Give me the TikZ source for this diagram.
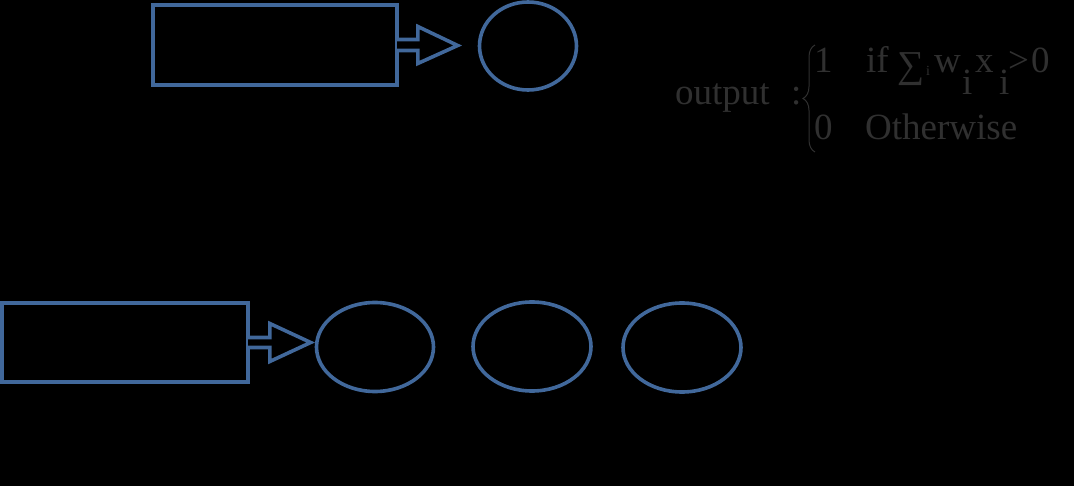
\documentclass[tikz,border=0pt]{standalone}
\usepackage{fontspec}
\setmainfont{Liberation Serif}
\usetikzlibrary{shapes.geometric,decorations.pathreplacing,calc}
\definecolor{edge}{RGB}{65,104,155}
\definecolor{txt}{RGB}{48,48,48}
\tikzset{
  box/.style={draw=edge,line width=3.6pt,rectangle,inner sep=0pt,fill=black},
  oval/.style={draw=edge,line width=3.6pt,ellipse,inner sep=0pt,fill=black},
  blockarrow/.style={draw=edge,line width=3.6pt,fill=black,line join=miter},
  lbl/.style={text=txt,font=\fontsize{37}{40}\selectfont,inner sep=0pt,anchor=base west}
}
\begin{document}
\begin{tikzpicture}[x=1pt,y=-1pt]
\fill[black] (0,0) rectangle (1074,486);
\useasboundingbox (0,0) rectangle (1074,486);
% top row
\node[box,minimum width=244pt,minimum height=80pt] (r1) at (275,45) {};
\node[oval,minimum width=97pt,minimum height=88pt] (c1) at (528,46) {};
\draw[blockarrow] ([shift={(-1.8,-5.5)}]r1.east) -- ++(20.8,0) -- ++(0,-13) -- ($(c1.west)+(-20,-0.5)$) -- ([shift={(19,18.5)}]r1.east) -- ++(0,-13) -- ++(-20.8,0);
% bottom row
\node[box,minimum width=246pt,minimum height=79pt] (r2) at (125,342.5) {};
\node[oval,minimum width=117pt,minimum height=89pt] (e1) at (375,347) {};
\node[oval,minimum width=118pt,minimum height=89pt] (e2) at (532,346.5) {};
\node[oval,minimum width=118pt,minimum height=89pt] (e3) at (682,347.5) {};
\draw[blockarrow] ([shift={(-1.8,-5)}]r2.east) -- ++(21.8,0) -- ++(0,-14) -- ($(e1.west)+(-4,-4.5)$) -- ([shift={(20,19)}]r2.east) -- ++(0,-14) -- ++(-21.8,0);
% formula
\node[lbl] (out) at (675,105) {output};
\node[lbl] (col) at (791,105) {:};
\draw[txt,line width=1pt,decorate,decoration={brace,amplitude=12pt}] (815,152) -- (815,45);
\node[lbl] (one) at (814,73) {1};
\node[lbl] (zero) at (814,140) {0};
\node[lbl] (if) at (866,73) {if};
\node[lbl,font=\fontsize{38}{40}\selectfont] (sum) at (897,78) {∑};
\node[lbl,font=\fontsize{14}{16}\selectfont] (si) at (926,76) {i};
\node[lbl] (w) at (934,73) {w};
\node[lbl] (wi) at (962,95) {i};
\node[lbl] (x) at (975,73) {x};
\node[lbl] (xi) at (999,95) {i};
\node[lbl] (gt) at (1008,73) {>};
\node[lbl] (z) at (1031,73) {0};
\node[lbl] (oth) at (865,140) {Otherwise};
\end{tikzpicture}
\end{document}
